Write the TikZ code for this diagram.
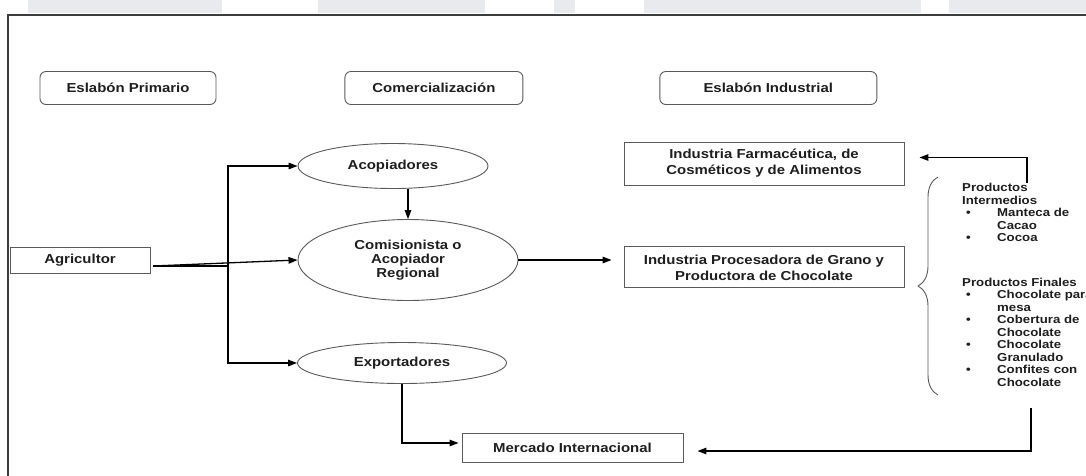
\documentclass[tikz,border=0pt]{standalone}
\usepackage{fontspec}
\setmainfont{Liberation Sans}[FakeStretch=1.15]
\usetikzlibrary{arrows.meta,positioning,shapes.geometric,calc,decorations.pathreplacing}
\definecolor{ink}{HTML}{1E1E1E}
\definecolor{edge}{HTML}{5A5A5A}
\definecolor{framegray}{HTML}{3C3C3C}
\definecolor{fadegray}{HTML}{E8EAED}
\tikzset{
  box/.style={draw=edge, line width=0.9pt, fill=white, align=center, inner sep=2pt, font=\fontsize{13}{16}\selectfont\bfseries, text=ink},
  headbox/.style={box, rounded corners=6pt, minimum height=33pt},
  oval/.style={ellipse, draw=edge, line width=0.9pt, fill=white, align=center, inner sep=0pt, font=\fontsize{13}{14}\selectfont\bfseries, text=ink},
  listtext/.style={font=\fontsize{11.5}{12.5}\selectfont\bfseries, text=ink, inner sep=0pt, anchor=north west},
  arrow/.style={-{Triangle[length=9pt,width=6.5pt]}, line width=1.3pt, draw=black},
  link/.style={line width=1.3pt, draw=black}
}

\begin{document}
\begin{tikzpicture}[x=1pt, y=-1pt]
\useasboundingbox (0,0) rectangle (1086,475);
% faded band and frame
\fill[fadegray] (28,0) rectangle (222,13);
\fill[fadegray] (318,0) rectangle (485,13);
\fill[fadegray] (554,0) rectangle (575,13);
\fill[fadegray] (644,0) rectangle (921,13);
\fill[fadegray] (949,0) rectangle (1086,13);
\draw[framegray, line width=1.5pt] (8,480) -- (8,15) -- (1090,15);

\node[headbox, minimum width=176pt] (prim) at (128,88) {Eslabón Primario};
\node[headbox, minimum width=178pt, right=128pt of prim] (comer) {Comercialización};
\node[headbox, minimum width=217pt, right=136pt of comer] (indus) {Eslabón Industrial};

\node[oval, minimum width=190pt, minimum height=45pt] (acop) at (393,166) {Acopiadores};
\node[oval, minimum width=220pt, minimum height=81pt] (comi) at (408,260) {Comisionista o\\Acopiador\\Regional};
\node[oval, minimum width=209pt, minimum height=41pt] (expo) at (402,363) {Exportadores};
\node[box, minimum width=140pt, minimum height=26pt] (agri) at (80,260) {Agricultor};
\node[box, minimum width=280pt, minimum height=43pt] (farma) at (764,163.5) {Industria Farmacéutica, de\\Cosméticos y de Alimentos};
\node[box, minimum width=280pt, minimum height=41pt, below=61pt of farma] (proc) {Industria Procesadora de Grano y\\Productora de Chocolate};
\node[box, minimum width=221pt, minimum height=29pt] (merc) at (572.5,447.5) {Mercado Internacional};

\node[listtext] (prods) at (962,183) {\begin{tabular}{@{}p{35pt}@{}l@{}}
\multicolumn{2}{@{}l@{}}{Productos}\\
\multicolumn{2}{@{}l@{}}{Intermedios}\\
\hspace*{4pt}\textbullet & Manteca de\\
 & Cacao\\
\hspace*{4pt}\textbullet & Cocoa\\[32pt]
\multicolumn{2}{@{}l@{}}{Productos Finales}\\
\hspace*{4pt}\textbullet & Chocolate para\\
 & mesa\\
\hspace*{4pt}\textbullet & Cobertura de\\
 & Chocolate\\
\hspace*{4pt}\textbullet & Chocolate\\
 & Granulado\\
\hspace*{4pt}\textbullet & Confites con\\
 & Chocolate
\end{tabular}};
\draw[decorate, decoration={brace, amplitude=20pt}, line width=0.9pt, draw=edge] (938,395) -- (938,177);

% connectors
\coordinate (fork) at (228,266);
\coordinate (ptop) at (1027,183);
\coordinate (pbot) at (1031,408);
\draw[link] ($(agri.east)+(3,6)$) -- (fork);
\draw[arrow] ($(agri.east)+(3,6)$) -- (comi.west);
\draw[arrow] (fork) |- (acop.west);
\draw[arrow] (fork) |- (expo.west);
\draw[arrow] (acop.south -| comi.north) -- (comi.north);
\draw[arrow, shorten >=12pt] (comi.east) -- (comi.east -| proc.west);
\draw[arrow, shorten >=3pt] (expo.south) |- ($(merc.west)+(0,-4.5)$);
\draw[arrow, shorten >=15pt] (ptop) |- ($(farma.east)+(0,-6)$);
\draw[arrow, shorten >=14pt] (pbot) |- ($(merc.east)+(0,3.5)$);
\end{tikzpicture}
\end{document}
